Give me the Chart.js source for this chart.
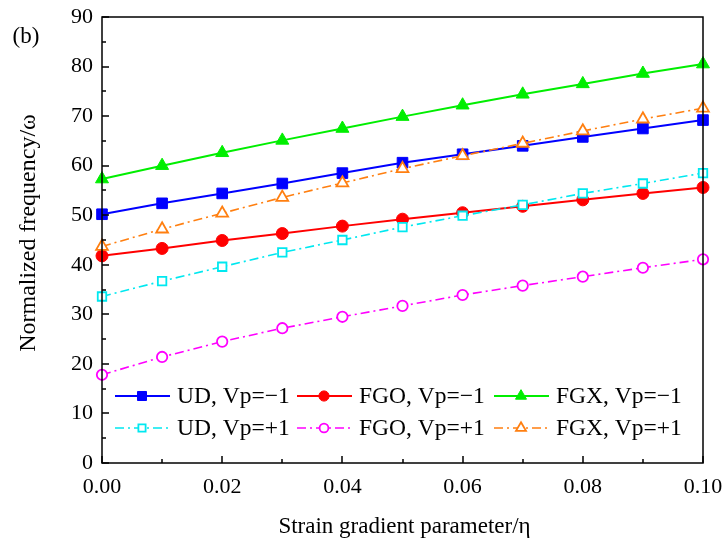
<!DOCTYPE html>
<html>
<head>
<meta charset="utf-8">
<script src="https://cdn.jsdelivr.net/npm/chart.js@4.4.1/dist/chart.umd.min.js"></script>
<style>
    body { margin: 0; background: #fff; }
    #wrap { width: 724px; height: 547px; position: relative; }
</style>
</head>
<body>
<div id="wrap"><canvas id="freqChart"></canvas></div>
<script>
// strain gradient parameter (x axis)
const etaValues = [0, 0.01, 0.02, 0.03, 0.04, 0.05, 0.06, 0.07, 0.08, 0.09, 0.10];

// normalized frequency
const udNeg  = [50.2, 52.4, 54.4, 56.4, 58.5, 60.6, 62.3, 64.0, 65.8, 67.5, 69.2];
const fgoNeg = [41.8, 43.3, 44.9, 46.3, 47.8, 49.2, 50.5, 51.8, 53.1, 54.4, 55.6];
const fgxNeg = [57.3, 60.0, 62.6, 65.1, 67.5, 69.9, 72.2, 74.4, 76.5, 78.6, 80.5];
const udPos  = [33.6, 36.7, 39.6, 42.5, 45.0, 47.6, 49.9, 52.1, 54.4, 56.4, 58.5];
const fgoPos = [17.8, 21.4, 24.5, 27.2, 29.5, 31.7, 33.9, 35.8, 37.6, 39.4, 41.1];
const fgxPos = [43.7, 47.2, 50.4, 53.6, 56.5, 59.4, 62.0, 64.5, 67.0, 69.4, 71.6];

const seriesLabels = ['UD, Vp=\u22121', 'FGO, Vp=\u22121', 'FGX, Vp=\u22121',
                      'UD, Vp=+1', 'FGO, Vp=+1', 'FGX, Vp=+1'];

const FONT = "'Liberation Serif', 'Times New Roman', serif";
const DASH_DOT = [9, 4, 2, 4];

function toPoints(values) {
    return etaValues.map((x, i) => ({ x: x, y: values[i] }));
}

function makeSet(label, values, color, style, filled, radius, dashed) {
    return {
        label: label,
        data: toPoints(values),
        borderColor: color,
        backgroundColor: filled ? color : '#ffffff',
        pointBackgroundColor: filled ? color : '#ffffff',
        pointBorderColor: color,
        pointStyle: style,
        pointRadius: radius,
        pointHoverRadius: radius,
        pointBorderWidth: filled ? 1 : 1.8,
        borderWidth: dashed ? 1.6 : 2,
        borderDash: dashed ? DASH_DOT : [],
        tension: 0,
        fill: false,
        clip: false
    };
}

const datasets = [
    makeSet(seriesLabels[3], udPos,  '#00e8f0', 'rect',     false, 6.0, true),
    makeSet(seriesLabels[4], fgoPos, '#ff00ff', 'circle',   false, 5.2, true),
    makeSet(seriesLabels[5], fgxPos, '#ff7f10', 'triangle', false, 6.8, true),
    makeSet(seriesLabels[0], udNeg,  '#0000ff', 'rect',     true,  7.5, false),
    makeSet(seriesLabels[1], fgoNeg, '#ff0000', 'circle',   true,  6.0, false),
    makeSet(seriesLabels[2], fgxNeg, '#00ee00', 'triangle', true,  7.5, false)
];

// legend order: row 1 = Vp=-1, row 2 = Vp=+1
const legendOrder = [3, 4, 5, 0, 1, 2];

// frame, inward ticks, titles and legend inside plot
const decorPlugin = {
    id: 'decor',
    afterDraw(chart) {
        const ctx = chart.ctx;
        const area = chart.chartArea;
        const xs = chart.scales.x;
        const ys = chart.scales.y;
        ctx.save();
        ctx.strokeStyle = '#000';
        ctx.lineWidth = 1.5;
        ctx.setLineDash([]);
        ctx.strokeRect(area.left, area.top, area.right - area.left, area.bottom - area.top);

        ctx.beginPath();
        for (let v = 0; v <= 90; v += 5) {
            const y = Math.round(ys.getPixelForValue(v));
            const len = v % 10 === 0 ? 7 : 4;
            ctx.moveTo(area.left, y);
            ctx.lineTo(area.left + len, y);
        }
        for (let i = 0; i <= 10; i++) {
            const x = Math.round(xs.getPixelForValue(i / 100));
            const len = i % 2 === 0 ? 7 : 4;
            ctx.moveTo(x, area.bottom);
            ctx.lineTo(x, area.bottom - len);
        }
        ctx.stroke();

        ctx.fillStyle = '#000';
        ctx.textAlign = 'center';
        ctx.textBaseline = 'middle';
        ctx.font = '23px ' + FONT;
        ctx.fillText('Strain gradient parameter/\u03b7', (area.left + area.right) / 2 + 2, 527);
        ctx.fillText('(b)', 26, 37);
        ctx.save();
        ctx.translate(29, 233);
        ctx.rotate(-Math.PI / 2);
        ctx.font = '24px ' + FONT;
        ctx.fillText('Normalized frequency/\u03c9', 0, 0);
        ctx.restore();

        // legend
        const colX = [115, 297, 494];
        const rowY = [396, 428];
        ctx.font = '23.5px ' + FONT;
        ctx.textAlign = 'left';
        legendOrder.forEach((di, k) => {
            const ds = chart.data.datasets[di];
            const x0 = colX[k % 3];
            const y0 = rowY[Math.floor(k / 3)];
            ctx.strokeStyle = ds.borderColor;
            ctx.lineWidth = ds.borderWidth;
            ctx.setLineDash(ds.borderDash);
            ctx.beginPath();
            ctx.moveTo(x0, y0);
            ctx.lineTo(x0 + 55, y0);
            ctx.stroke();
            ctx.setLineDash([]);
            ctx.fillStyle = ds.pointBackgroundColor;
            ctx.strokeStyle = ds.pointBorderColor;
            ctx.lineWidth = ds.pointBorderWidth;
            Chart.helpers.drawPoint(ctx, {
                pointStyle: ds.pointStyle,
                radius: ds.pointRadius * 0.85,
                rotation: 0,
                borderWidth: ds.pointBorderWidth
            }, x0 + 27, y0);
            ctx.fillStyle = '#000';
            ctx.fillText(ds.label, x0 + 62, y0 + 1);
        });
        ctx.restore();
    }
};

const ctx = document.getElementById('freqChart').getContext('2d');
new Chart(ctx, {
    type: 'line',
    data: { datasets: datasets },
    options: {
        responsive: true,
        maintainAspectRatio: false,
        animation: false,
        events: [],
        layout: { padding: { top: 17, right: 21, left: 0, bottom: 0 } },
        plugins: {
            legend: { display: false },
            tooltip: { enabled: false }
        },
        scales: {
            x: {
                type: 'linear',
                min: 0,
                max: 0.1,
                grid: { display: false, tickLength: 0 },
                border: { display: false },
                ticks: {
                    stepSize: 0.02,
                    padding: 11,
                    color: '#000',
                    maxRotation: 0,
                    font: { family: FONT, size: 22 },
                    callback: v => v.toFixed(2)
                },
                afterFit(scale) {
                    scale.height = 84;
                    scale.paddingLeft = 0;
                    scale.paddingRight = 0;
                }
            },
            y: {
                min: 0,
                max: 90,
                grid: { display: false, tickLength: 0 },
                border: { display: false },
                ticks: {
                    stepSize: 10,
                    padding: 9,
                    color: '#000',
                    font: { family: FONT, size: 22 }
                },
                afterFit(scale) {
                    scale.width = 102;
                    scale.paddingTop = 0;
                    scale.paddingBottom = 0;
                }
            }
        }
    },
    plugins: [decorPlugin]
});
</script>
</body>
</html>
